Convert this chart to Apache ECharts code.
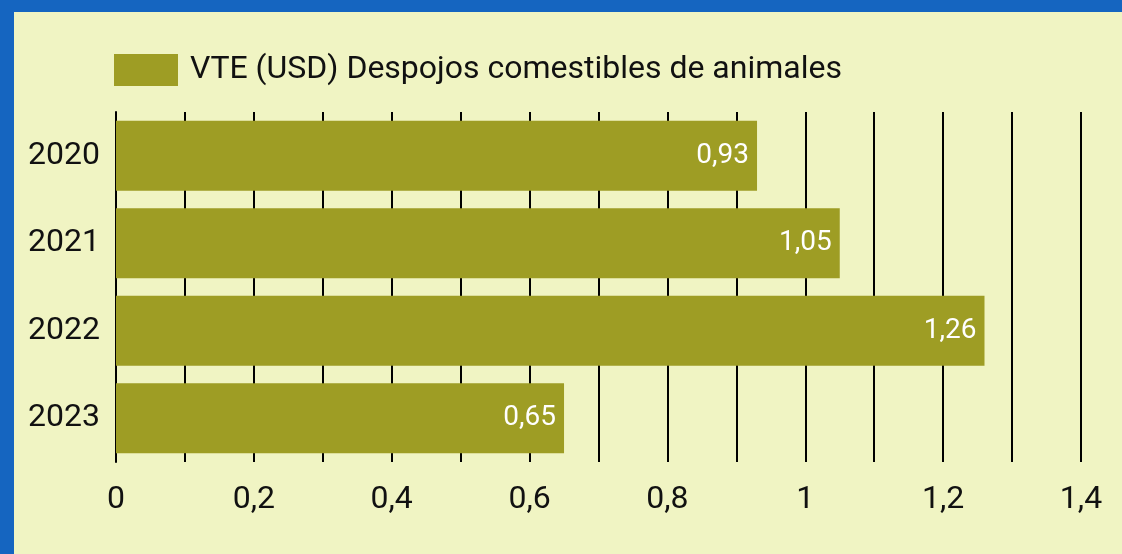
<!DOCTYPE html>
<html>
<head>
<meta charset="utf-8">
<script src="https://cdn.jsdelivr.net/npm/echarts@6/dist/echarts.min.js"></script>
<style>
  html, body { margin: 0; padding: 0; }
  #wrap { position: relative; width: 1122px; height: 554px; background: #1565C0; overflow: hidden; }
  #chart { position: absolute; left: 14px; top: 12px; width: 1108px; height: 542px; background: #F0F4C3; }
</style>
</head>
<body>
<div id="wrap"><div id="chart"></div></div>
<script>
// categorias y valores
var years = ['2020', '2021', '2022', '2023'];
var vteValues = [0.93, 1.05, 1.26, 0.65];
var seriesName = 'VTE (USD) Despojos comestibles de animales';

var fontFam = 'Roboto';
var barColor = '#9E9D24';

function comma(v) {
    return String(v).replace('.', ',');
}

var myChart = echarts.init(document.getElementById('chart'));
var option = {
    animation: false,
    textStyle: { fontFamily: fontFam },
    legend: {
        data: [seriesName],
        left: 95,
        top: 37,
        itemWidth: 64,
        itemHeight: 32,
        itemGap: 10,
        icon: 'rect',
        textStyle: { fontFamily: fontFam, fontSize: 32, color: '#111', padding: [0, 0, 0, 7] }
    },
    grid: {
        left: 102,
        right: 41,
        top: 100,
        bottom: 92
    },
    xAxis: {
        type: 'value',
        min: 0,
        max: 1.4,
        interval: 0.2,
        axisLine: { show: false },
        axisTick: { show: false },
        axisLabel: {
            fontFamily: fontFam,
            fontSize: 32,
            color: '#111',
            margin: 22,
            formatter: function (v) { return comma(Math.round(v * 10) / 10); }
        },
        splitLine: { show: true, lineStyle: { color: '#000', width: 2 } },
        minorTick: { show: false, splitNumber: 2 },
        minorSplitLine: { show: true, lineStyle: { color: '#000', width: 2 } }
    },
    yAxis: {
        type: 'category',
        data: years,
        inverse: true,
        axisLine: { show: true, lineStyle: { color: '#000', width: 2 } },
        axisTick: { show: false },
        axisLabel: { fontFamily: fontFam, fontSize: 32, color: '#111', margin: 16 }
    },
    series: [{
        name: seriesName,
        type: 'bar',
        data: vteValues,
        barCategoryGap: '20%',
        itemStyle: { color: barColor },
        label: {
            show: true,
            position: 'insideRight',
            distance: 8,
            fontFamily: fontFam,
            fontSize: 28,
            color: '#fff',
            formatter: function (p) { return comma(p.value); }
        }
    }]
};
myChart.setOption(option);
</script>
</body>
</html>
